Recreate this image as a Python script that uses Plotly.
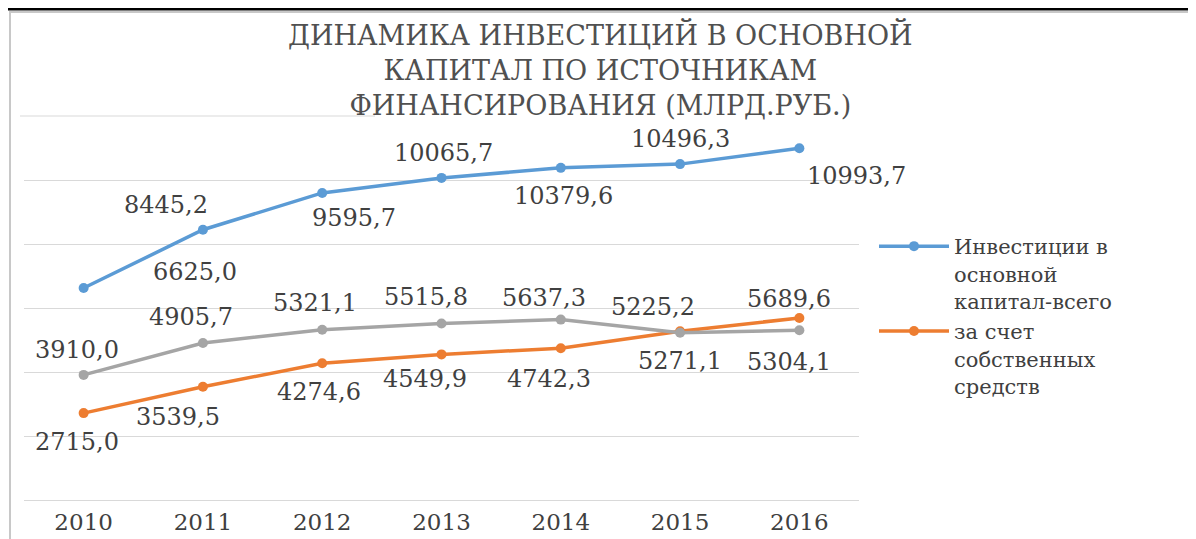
import plotly.graph_objects as go

years = ["2010", "2011", "2012", "2013", "2014", "2015", "2016"]
total_inv = [6625.0, 8445.2, 9595.7, 10065.7, 10379.6, 10496.3, 10993.7]
own_funds = [2715.0, 3539.5, 4274.6, 4549.9, 4742.3, 5271.1, 5689.6]
attracted = [3910.0, 4905.7, 5321.1, 5515.8, 5637.3, 5225.2, 5304.1]

name_total = "Инвестиции в<br>основной<br>капитал-всего"
name_own = "за счет<br>собственных<br>средств"
name_attr = "за счет привлеченных средств"
title_text = "ДИНАМИКА ИНВЕСТИЦИЙ В ОСНОВНОЙ<br>КАПИТАЛ ПО ИСТОЧНИКАМ<br>ФИНАНСИРОВАНИЯ (МЛРД.РУБ.)"

# label offsets in pixels (dx right, dy down) relative to each point
off_total = [(111, -16), (-37, -25), (32, 25), (2, -25), (3, 28), (0, -25), (57, 28)]
off_attr = [(-7, -25), (-12, -26), (-7, -27), (-16, -26), (-17, -22), (-27, -26), (-10, 32)]
off_own = [(-7, 29), (-25, 30), (-3, 29), (-17, 25), (-12, 31), (0, 30), (-10, -19)]

BLUE, ORANGE, GRAY = "#5B9BD5", "#ED7D31", "#A5A5A5"
FONT = "DejaVu Serif"
TXT = "#404040"

# page body has an 8px margin: compensate so plot lands at target screen pixels
SH = 8
W, H = 1196, 539
L, T = 24 - SH, 116 - SH
pw, ph = 835, 384
R, B = W - L - pw, H - T - ph


def px(p):
    return (p - SH - L) / pw


def py(q):
    return (T + ph - (q - SH)) / ph


fig = go.Figure()
fig.add_trace(go.Scatter(x=years, y=total_inv, name=name_total, mode="lines+markers",
                         line=dict(color=BLUE, width=3.5), marker=dict(size=10, color=BLUE)))
fig.add_trace(go.Scatter(x=years, y=own_funds, name=name_own, mode="lines+markers",
                         line=dict(color=ORANGE, width=3.5), marker=dict(size=10, color=ORANGE)))
fig.add_trace(go.Scatter(x=years, y=attracted, name=name_attr, mode="lines+markers", showlegend=False,
                         line=dict(color=GRAY, width=3.5), marker=dict(size=10, color=GRAY)))

annotations = []
for vals, offs in ((total_inv, off_total), (attracted, off_attr), (own_funds, off_own)):
    for i, (v, (dx, dy)) in enumerate(zip(vals, offs)):
        annotations.append(dict(x=i, y=v, xref="x", yref="y", showarrow=False,
                                text=f"{v:.1f}".replace(".", ","),
                                xshift=dx, yshift=-dy,
                                font=dict(family=FONT, size=24, color=TXT)))

annotations.append(dict(x=px(600), y=py(70), xref="paper", yref="paper", showarrow=False,
                        text=title_text, xanchor="center", yanchor="middle", align="center",
                        font=dict(family=FONT, size=27, color="#505050")))

shapes = [
    dict(type="rect", xref="paper", yref="paper", x0=px(10), x1=px(1195), y0=py(560), y1=py(12),
         line=dict(color="#c8c8c8", width=2), layer="below"),
    dict(type="line", xref="paper", yref="paper", x0=px(0), x1=px(1200), y0=py(9), y1=py(9),
         line=dict(color="#000000", width=3)),
    dict(type="line", xref="paper", yref="paper", x0=px(20), x1=px(375), y0=py(116), y1=py(116),
         line=dict(color="#d9d9d9", width=1), layer="below"),
]

fig.update_layout(
    width=W, height=H,
    margin=dict(l=L, r=R, t=T, b=B, autoexpand=False),
    paper_bgcolor="white", plot_bgcolor="white",
    annotations=annotations, shapes=shapes,
    showlegend=True,
    legend=dict(x=px(874), y=py(226), xanchor="left", yanchor="top", xref="paper", yref="paper",
                valign="top", itemwidth=70, tracegroupgap=0,
                font=dict(family=FONT, size=21, color=TXT), bgcolor="rgba(0,0,0,0)"),
    xaxis=dict(type="category", range=[-0.5, 6.5], showgrid=False, showline=False,
               ticks="", ticklabelstandoff=6, automargin=False,
               tickfont=dict(family=FONT, size=23, color=TXT), fixedrange=True),
    yaxis=dict(range=[0, 12000], dtick=2000, showticklabels=False, gridcolor="#d9d9d9",
               gridwidth=1, zeroline=True, zerolinecolor="#d9d9d9", zerolinewidth=1,
               showline=False, automargin=False, fixedrange=True),
)

fig.write_html("out.html")
